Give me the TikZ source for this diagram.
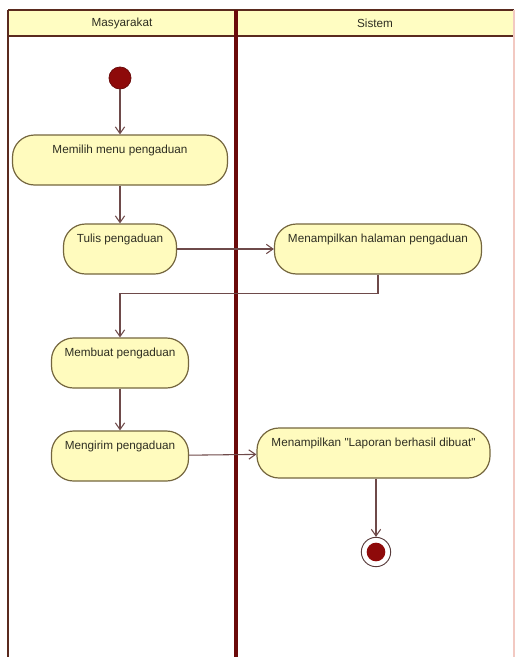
\documentclass[tikz,border=0pt]{standalone}
\usepackage{fontspec}
\setmainfont{Liberation Sans}
\usepackage{tikz}
\usetikzlibrary{arrows.meta,positioning,calc}
\definecolor{LaneLine}{HTML}{5A2A1E}
\definecolor{LaneDivider}{HTML}{6B0A0A}
\definecolor{LaneEdge}{HTML}{F2C9C2}
\definecolor{HeadFill}{HTML}{FFFDC2}
\definecolor{ActFill}{HTML}{FFFBBE}
\definecolor{ActLine}{HTML}{74663E}
\definecolor{FlowLine}{HTML}{6E4A4A}
\definecolor{StartRed}{HTML}{8E0A0A}
\definecolor{TextDark}{HTML}{2E2E22}
\tikzset{
    % activity boxes, text sits near the top
    activity/.style={
        rectangle,
        rounded corners=16.5pt,
        draw=ActLine,
        line width=0.9pt,
        fill=ActFill,
        text=TextDark,
        inner xsep=4pt,
        inner ysep=3pt,
        text height=10.5pt,
        text depth=21pt,
        align=center,
        font=\fontsize{8.8}{10}\selectfont
    },
    lane title/.style={
        text=TextDark,
        font=\fontsize{8.8}{10}\selectfont
    },
    start state/.style={
        circle,
        draw=LaneDivider,
        line width=0.6pt,
        fill=StartRed,
        inner sep=0pt,
        minimum size=16.5pt
    },
    end state/.style={
        circle,
        draw=FlowLine!80!black,
        line width=0.7pt,
        fill=white,
        inner sep=0pt,
        minimum size=22pt,
        path picture={\fill[StartRed] (path picture bounding box.center) circle (7pt);}
    },
    flow/.style={
        -{Straight Barb[length=5pt,width=7pt]},
        line width=0.8pt,
        color=FlowLine
    }
}
\begin{document}
\begin{tikzpicture}[x=0.75pt, y=-0.75pt]
    \useasboundingbox (0,0) rectangle (515,657);
    % swimlanes
    \fill[HeadFill] (8,10) rectangle (514,36);
    \draw[LaneLine, line width=1.5pt] (8,10) -- (514,10);
    \draw[LaneLine, line width=1.5pt] (8,36) -- (514,36);
    \draw[LaneLine, line width=1.5pt] (8,10) -- (8,657);
    \draw[LaneEdge, line width=0.8pt] (514,10) -- (514,657);
    \draw[LaneDivider, line width=3pt] (236,10) -- (236,657);
    \node[lane title] (masyarakat) at (122,23) {Masyarakat};
    \node[lane title] (sistem) at (375,23) {Sistem};

    % nodes
    \node[start state] (start) at (120,78) {};
    \node[activity, minimum width=161.25pt] (memilih) at (120,160) {Memilih menu pengaduan};
    \node[activity, minimum width=84.75pt] (tulis) at (120,249) {Tulis pengaduan};
    \node[activity, minimum width=155.25pt] (halaman) at (378,249) {Menampilkan halaman pengaduan};
    \node[activity, minimum width=102.75pt] (membuat) at (120,363) {Membuat pengaduan};
    \node[activity, minimum width=102.75pt] (mengirim) at (120,456) {Mengirim pengaduan};
    \node[activity, minimum width=174.75pt] (laporan) at (373.5,453) {Menampilkan \textquotedbl Laporan berhasil dibuat\textquotedbl};
    \node[end state] (final) at (376,552) {};

    % flows
    \draw[flow] (start) -- (memilih);
    \draw[flow] (memilih) -- (tulis);
    \draw[flow] (tulis) -- (halaman);
    \draw[flow] (halaman.south) -- ++(0,19) -| (membuat.north);
    \draw[flow] (membuat) -- (mengirim);
    \draw[flow] (mengirim) -- (laporan);
    \draw[flow] (laporan.south -| final) -- (final);
\end{tikzpicture}
\end{document}
